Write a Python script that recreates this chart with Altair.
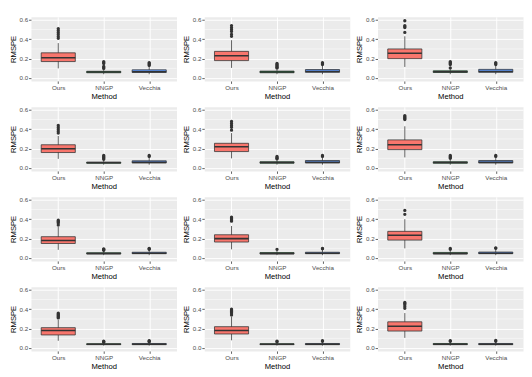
import altair as alt
import pandas as pd

METHODS = ["Ours", "NNGP", "Vecchia"]
COLORS = ["#F8766D", "#00BA38", "#619CFF"]

# 12 panels, row-major (4 rows x 3 columns)
OURS_LO  = [0.100, 0.105, 0.115, 0.095, 0.100, 0.110, 0.085, 0.090, 0.100, 0.075, 0.080, 0.105]
OURS_Q1  = [0.170, 0.180, 0.200, 0.160, 0.170, 0.190, 0.150, 0.165, 0.185, 0.135, 0.145, 0.175]
OURS_MED = [0.210, 0.230, 0.255, 0.200, 0.220, 0.240, 0.180, 0.200, 0.235, 0.180, 0.180, 0.225]
OURS_Q3  = [0.260, 0.275, 0.300, 0.240, 0.255, 0.290, 0.220, 0.240, 0.275, 0.210, 0.220, 0.270]
OURS_HI  = [0.360, 0.390, 0.430, 0.330, 0.360, 0.430, 0.320, 0.330, 0.400, 0.290, 0.320, 0.360]
OURS_OUT = [
    [0.41, 0.43, 0.45, 0.47, 0.49, 0.51],
    [0.43, 0.45, 0.48, 0.50, 0.52, 0.54],
    [0.47, 0.52, 0.53, 0.54, 0.59],
    [0.36, 0.38, 0.40, 0.42, 0.44],
    [0.39, 0.42, 0.44, 0.46, 0.48],
    [0.50, 0.51, 0.52, 0.53, 0.54],
    [0.34, 0.36, 0.37, 0.38, 0.39],
    [0.38, 0.39, 0.40, 0.41, 0.42],
    [0.45, 0.49],
    [0.31, 0.32, 0.33, 0.34, 0.35, 0.36],
    [0.34, 0.36, 0.37, 0.38, 0.39, 0.40],
    [0.41, 0.43, 0.45, 0.46, 0.47],
]

NNGP_LO  = [0.040, 0.040, 0.040, 0.035, 0.035, 0.035, 0.030, 0.030, 0.030, 0.025, 0.025, 0.025]
NNGP_Q1  = [0.055, 0.055, 0.058, 0.050, 0.050, 0.050, 0.042, 0.042, 0.042, 0.035, 0.035, 0.035]
NNGP_MED = [0.062, 0.063, 0.065, 0.055, 0.057, 0.057, 0.048, 0.048, 0.048, 0.040, 0.040, 0.040]
NNGP_Q3  = [0.070, 0.072, 0.075, 0.062, 0.065, 0.065, 0.055, 0.057, 0.058, 0.045, 0.045, 0.047]
NNGP_HI  = [0.090, 0.100, 0.100, 0.085, 0.090, 0.090, 0.075, 0.080, 0.080, 0.055, 0.060, 0.065]
NNGP_OUT = [
    [0.10, 0.11, 0.12, 0.15, 0.16, 0.17],
    [0.105, 0.11, 0.12, 0.13, 0.14, 0.15],
    [0.105, 0.14, 0.15, 0.16, 0.17],
    [0.09, 0.10, 0.11, 0.12, 0.13],
    [0.095, 0.10, 0.11, 0.12],
    [0.10, 0.11, 0.12, 0.13],
    [0.08, 0.085, 0.09, 0.095],
    [0.09],
    [0.09, 0.10],
    [0.06, 0.065, 0.07],
    [0.065, 0.07],
    [0.07, 0.075],
]

VEC_LO  = [0.040, 0.040, 0.040, 0.035, 0.035, 0.035, 0.030, 0.030, 0.030, 0.025, 0.025, 0.025]
VEC_Q1  = [0.058, 0.060, 0.060, 0.052, 0.052, 0.052, 0.045, 0.045, 0.045, 0.035, 0.035, 0.035]
VEC_MED = [0.065, 0.068, 0.068, 0.060, 0.060, 0.060, 0.050, 0.050, 0.050, 0.040, 0.040, 0.040]
VEC_Q3  = [0.085, 0.088, 0.090, 0.075, 0.078, 0.078, 0.060, 0.060, 0.062, 0.047, 0.047, 0.047]
VEC_HI  = [0.120, 0.130, 0.130, 0.110, 0.110, 0.110, 0.085, 0.090, 0.090, 0.060, 0.065, 0.065]
VEC_OUT = [
    [0.13, 0.14, 0.15, 0.16],
    [0.14, 0.15, 0.16],
    [0.14, 0.15, 0.16],
    [0.12, 0.13],
    [0.12, 0.13],
    [0.12, 0.13],
    [0.09, 0.095, 0.10],
    [0.095, 0.10],
    [0.10, 0.105],
    [0.065, 0.07, 0.075],
    [0.07, 0.075],
    [0.07, 0.08],
]

Y_TICKS = [0.0, 0.2, 0.4, 0.6]
Y_MINOR = [0.1, 0.3, 0.5]
Y_DOMAIN = [-0.03, 0.63]

W, H = 152, 67
BOXW = 0.375
DARK = "#333333"

STATS = [
    (OURS_LO, OURS_Q1, OURS_MED, OURS_Q3, OURS_HI, OURS_OUT),
    (NNGP_LO, NNGP_Q1, NNGP_MED, NNGP_Q3, NNGP_HI, NNGP_OUT),
    (VEC_LO, VEC_Q1, VEC_MED, VEC_Q3, VEC_HI, VEC_OUT),
]

label_expr = "[" + ",".join("'%s'" % m for m in METHODS) + "][datum.value - 1]"

xscale = alt.Scale(domain=[0.4, 3.6], nice=False, zero=False)
yscale = alt.Scale(domain=Y_DOMAIN, nice=False, zero=False)

xaxis = alt.Axis(values=[1, 2, 3], labelExpr=label_expr, title="Method",
                 grid=True, gridColor="white", gridWidth=1)
yaxis = alt.Axis(values=Y_TICKS, format=".1f", title="RMSPE",
                 grid=True, gridColor="white", gridWidth=1)


def panel(i):
    rows = []
    outs = []
    for j, (lo, q1, med, q3, hi, out) in enumerate(STATS):
        c = j + 1
        rows.append(dict(method=METHODS[j], xc=c, xl=c - BOXW, xr=c + BOXW,
                         lo=lo[i], q1=q1[i], med=med[i], q3=q3[i], hi=hi[i]))
        for v in out[i]:
            outs.append(dict(method=METHODS[j], xc=c, v=v))
    df = pd.DataFrame(rows)
    dfo = pd.DataFrame(outs)
    dfm = pd.DataFrame({"y": Y_MINOR})

    color = alt.Color("method:N", scale=alt.Scale(domain=METHODS, range=COLORS), legend=None)

    minor = alt.Chart(dfm).mark_rule(color="white", strokeWidth=0.5).encode(
        y=alt.Y("y:Q", scale=yscale, axis=yaxis),
        x=alt.value(0), x2=alt.value(W))
    whisk = alt.Chart(df).mark_rule(color=DARK, strokeWidth=0.8).encode(
        x=alt.X("xc:Q", scale=xscale, axis=xaxis),
        y=alt.Y("lo:Q", scale=yscale, axis=yaxis), y2="hi:Q")
    box = alt.Chart(df).mark_rect(stroke=DARK, strokeWidth=0.8).encode(
        x=alt.X("xl:Q", scale=xscale, axis=xaxis), x2="xr:Q",
        y=alt.Y("q1:Q", scale=yscale, axis=yaxis), y2="q3:Q",
        color=color)
    median = alt.Chart(df).mark_rule(color=DARK, strokeWidth=1.6).encode(
        x=alt.X("xl:Q", scale=xscale, axis=xaxis), x2="xr:Q",
        y=alt.Y("med:Q", scale=yscale, axis=yaxis))
    pts = alt.Chart(dfo).mark_circle(color=DARK, size=12, opacity=1).encode(
        x=alt.X("xc:Q", scale=xscale, axis=xaxis),
        y=alt.Y("v:Q", scale=yscale, axis=yaxis))
    return alt.layer(minor, whisk, box, median, pts).properties(width=W, height=H)


rows_charts = []
for r in range(4):
    rows_charts.append(alt.hconcat(*[panel(r * 3 + c) for c in range(3)], spacing=4))

chart = alt.vconcat(*rows_charts, spacing=5).properties(padding=0).configure(
    background="white"
).configure_view(
    fill="#EBEBEB", stroke="transparent"
).configure_axis(
    labelFont="Liberation Sans", labelFontSize=6.5, labelColor="#4D4D4D",
    titleFont="Liberation Sans", titleFontSize=8, titleFontWeight="normal", titleColor="black",
    tickColor=DARK, tickSize=2.5, tickWidth=0.8, domain=False,
    labelPadding=1, titlePadding=2
)

chart.save("out.html", embed_options={"renderer": "svg", "actions": False})
